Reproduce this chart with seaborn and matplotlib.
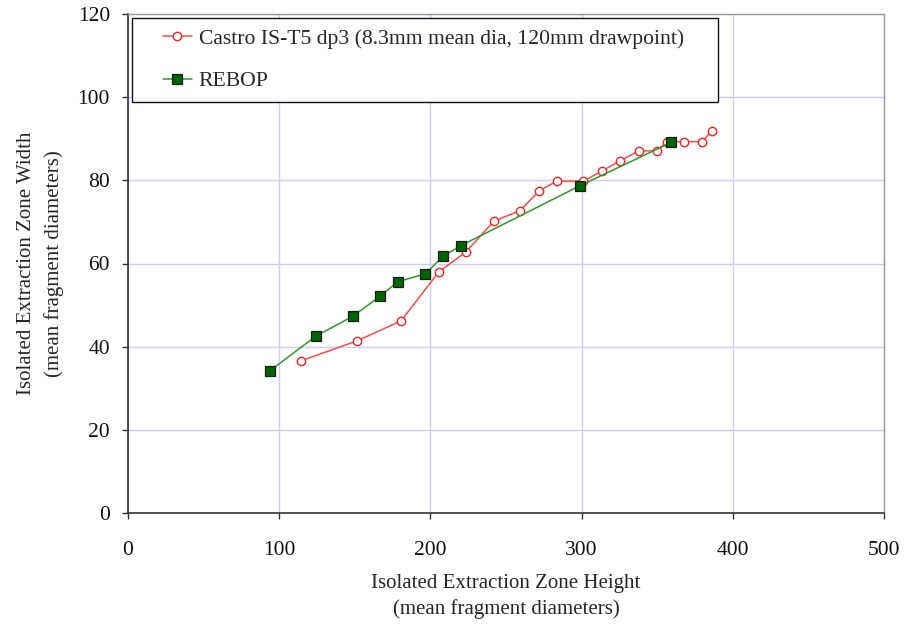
import matplotlib
matplotlib.use("Agg")
import matplotlib.pyplot as plt
import seaborn as sns
import pandas as pd
from matplotlib.lines import Line2D
from matplotlib.legend_handler import HandlerLine2D

castro_x = [114.4, 151.5, 180.6, 205.6, 223.5, 242.1, 259.3, 272.0, 283.5, 301.2,
            313.7, 325.4, 338.0, 350.1, 356.2, 367.9, 379.8, 386.0]
castro_y = [36.6, 41.4, 46.2, 58.0, 62.8, 70.2, 72.7, 77.5, 79.8, 79.8,
            82.3, 84.7, 87.1, 87.1, 89.3, 89.3, 89.3, 91.9]
rebop_x = [93.9, 124.1, 148.6, 166.7, 178.3, 196.6, 208.6, 220.2, 298.9, 359.1]
rebop_y = [34.2, 42.5, 47.3, 52.1, 55.6, 57.5, 61.8, 64.3, 78.7, 89.1]

castro_label = "Castro IS-T5 dp3 (8.3mm mean dia, 120mm drawpoint)"
rebop_label = "REBOP"
x_ticks = [0, 100, 200, 300, 400, 500]
y_ticks = [0, 20, 40, 60, 80, 100, 120]

sns.set_style("white")
plt.rcParams['font.family'] = ['Liberation Serif', 'DejaVu Serif']

FS = 15
FS_TICK = 15.5
FS_LEG = 15.6

fig = plt.figure(figsize=(9.08, 6.27), dpi=100)
ax = fig.add_axes([128/908, 1 - 513/627, (884-128)/908, (513-14)/627])

df_c = pd.DataFrame({"x": castro_x, "y": castro_y})
df_r = pd.DataFrame({"x": rebop_x, "y": rebop_y})

sns.lineplot(data=df_c, x="x", y="y", sort=False, estimator=None, ax=ax,
             color="#ff4a4a", linewidth=1.1, marker="o", markersize=6,
             markerfacecolor="white", markeredgecolor="#ff2020", markeredgewidth=1.0,
             label=castro_label)
sns.lineplot(data=df_r, x="x", y="y", sort=False, estimator=None, ax=ax,
             color="#2e9a2e", linewidth=1.1, marker="s", markersize=6.5,
             markerfacecolor="#006400", markeredgecolor="#1a1a1a", markeredgewidth=0.9,
             label=rebop_label)

ax.set_xlim(0, 500)
ax.set_ylim(0, 120)
ax.set_xticks(x_ticks)
ax.set_yticks(y_ticks)
ax.grid(True, color="#ccccff", linewidth=1.0)
ax.set_axisbelow(True)

for s in ["top", "right"]:
    ax.spines[s].set_color("#999999")
    ax.spines[s].set_linewidth(1.0)
for s in ["left", "bottom"]:
    ax.spines[s].set_color("#333333")
    ax.spines[s].set_linewidth(1.2)

ax.tick_params(axis="both", direction="out", length=4, width=1, color="#333333",
               labelsize=FS_TICK, labelcolor="#111111", bottom=True, left=True)
ax.tick_params(axis="x", pad=16.5)
ax.tick_params(axis="y", pad=9)

ax.set_xlabel("Isolated Extraction Zone Height\n(mean fragment diameters)",
              fontsize=FS, labelpad=10, linespacing=1.4)
ax.set_ylabel("Isolated Extraction Zone Width\n(mean fragment diameters)",
              fontsize=FS, labelpad=10, linespacing=1.5)

leg = ax.legend(loc="upper left", bbox_to_anchor=(4/756, 0, (718-132)/756, 1 - 4/499),
                mode="expand", fontsize=FS_LEG,
                frameon=True, fancybox=False, borderpad=0.5, labelspacing=1.02,
                handlelength=2.27, handletextpad=0.3, borderaxespad=0.0,
                handler_map={Line2D: HandlerLine2D(xpad=0.92)})
leg.get_frame().set_edgecolor("#111111")
leg.get_frame().set_linewidth(1.0)
leg.get_frame().set_alpha(1.0)

fig.savefig("out.png", dpi=100)
